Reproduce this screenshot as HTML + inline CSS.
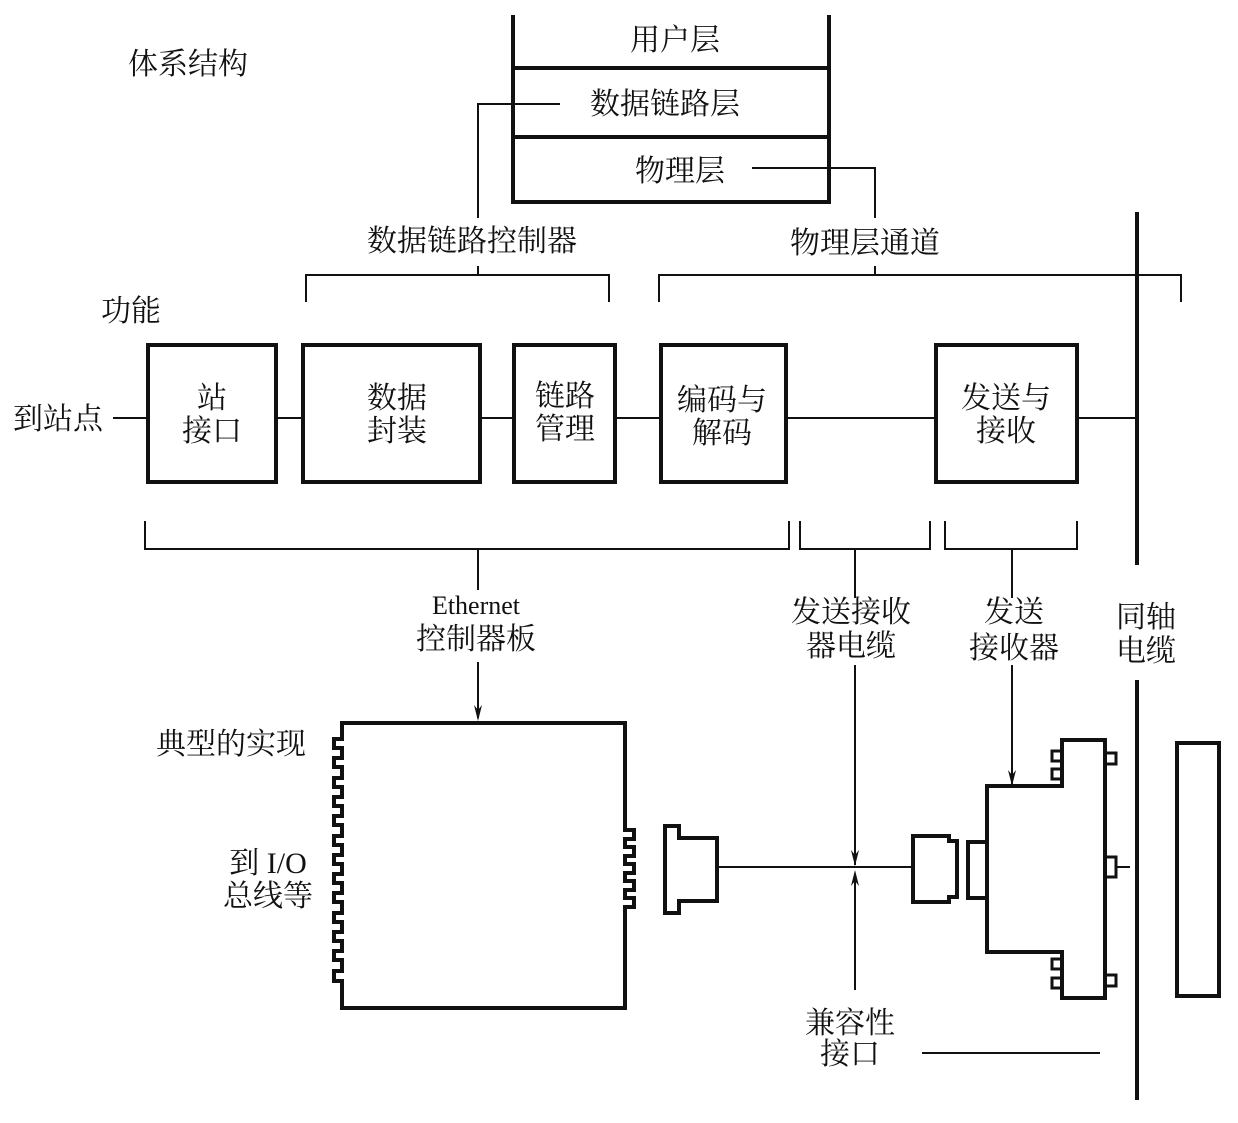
<!DOCTYPE html>
<html><head><meta charset="utf-8"><style>
body{margin:0;background:#fff}
svg text{font-family:"Liberation Serif","Noto Serif CJK SC","Noto Sans CJK SC",serif;font-size:30px;fill:#111;text-anchor:middle}
</style></head><body>
<svg width="1238" height="1118" viewBox="0 0 1238 1118" xmlns="http://www.w3.org/2000/svg">
<g fill="none" stroke="#111">
<path d="M513,15 V202 H829 V15 M513,68 H829 M513,137 H829" stroke-width="4"/>
<path d="M560,104 H478 V218 M752,168 H875 V218" stroke-width="2"/>
<path d="M306,302 V275 H609 V302 M478,266 V275 M659,302 V275 H1181 V302 M875,266 V275" stroke-width="2"/>
<path d="M1137,212 V565 M1137,680 V1100" stroke-width="4"/>
<g stroke-width="4">
<rect x="148" y="345" width="128" height="137"/>
<rect x="303" y="345" width="177" height="137"/>
<rect x="514" y="345" width="101" height="137"/>
<rect x="661" y="345" width="125" height="137"/>
<rect x="936" y="345" width="141" height="137"/>
</g>
<path d="M113,418 H148 M276,418 H303 M480,418 H514 M615,418 H661 M786,418 H936 M1077,418 H1137" stroke-width="2"/>
<path d="M145,521 V549 H789 V521 M478,549 V590 M800,521 V549 H930 V521 M855,549 V598 M945,521 V549 H1077 V521 M1012,549 V598" stroke-width="2"/>
<path d="M478,662 V718 M855,665 V865 M1012,665 V784 M855,990 V874" stroke-width="2"/>
<path d="M922,1053 H1100" stroke-width="2"/>
<path d="M342,723 H625 V830 H634 V839 H625 V847 H634 V856 H625 V864 H634 V873 H625 V881 H634 V890 H625 V898 H634 V907 H625 V1008 H342 V981 H334 V971 H342 V960 H334 V951 H342 V941 H334 V932 H342 V922 H334 V913 H342 V902 H334 V893 H342 V883 H334 V874 H342 V864 H334 V855 H342 V845 H334 V836 H342 V825 H334 V816 H342 V806 H334 V797 H342 V787 H334 V778 H342 V767 H334 V758 H342 V748 H334 V739 H342 Z" stroke-width="4"/>
<path d="M665,826 H679 V838 H717 V901 H679 V913 H665 Z" stroke-width="4"/>
<path d="M717,867 H913" stroke-width="2"/>
<path d="M913,836 H949 V841 H957 V897 H949 V902 H913 Z" stroke-width="4"/>
<rect x="968" y="842" width="19" height="56" stroke-width="4"/>
<path d="M987,786 H1062 V740 H1105 V998 H1062 V952 H987 Z" stroke-width="4"/>
<g stroke-width="3">
<rect x="1052" y="751" width="10" height="10"/><rect x="1052" y="769" width="10" height="10"/>
<rect x="1052" y="959" width="10" height="10"/><rect x="1052" y="978" width="10" height="10"/>
<rect x="1105" y="753" width="11" height="11"/><rect x="1105" y="857" width="11" height="20"/><rect x="1105" y="975" width="11" height="11"/>
</g>
<path d="M1116,867 H1130" stroke-width="2"/>
<rect x="1177" y="743" width="42" height="253" stroke-width="4"/>
</g>
<g fill="#111">
<path d="M478,721 L474,705 L478,710 L482,705 Z"/>
<path d="M855,866 L851,850 L855,855 L859,850 Z"/>
<path d="M1012,786 L1008,770 L1012,775 L1016,770 Z"/>
<path d="M855,870 L851,886 L855,881 L859,886 Z"/>
</g>
<g>
<text x="675" y="50">用户层</text>
<text x="665" y="114">数据链路层</text>
<text x="680" y="181">物理层</text>
<text x="188" y="74">体系结构</text>
<text x="472" y="251">数据链路控制器</text>
<text x="865" y="253">物理层通道</text>
<text x="131" y="321">功能</text>
<text x="58" y="429">到站点</text>
<text x="212" y="408">站</text><text x="212" y="441">接口</text>
<text x="397" y="408">数据</text><text x="397" y="441">封装</text>
<text x="565" y="406">链路</text><text x="565" y="439">管理</text>
<text x="722" y="410">编码与</text><text x="722" y="443">解码</text>
<text x="1006" y="408">发送与</text><text x="1006" y="441">接收</text>
<text x="476" y="614" style="font-size:26px">Ethernet</text>
<text x="476" y="649">控制器板</text>
<text x="851" y="622">发送接收</text><text x="851" y="656">器电缆</text>
<text x="1014" y="622">发送</text><text x="1014" y="658">接收器</text>
<text x="1146" y="627">同轴</text><text x="1146" y="661">电缆</text>
<text x="231" y="754">典型的实现</text>
<text x="268" y="873">到 I/O</text><text x="268" y="906">总线等</text>
<text x="850" y="1033">兼容性</text><text x="850" y="1064">接口</text>
</g>
</svg>
</body></html>
